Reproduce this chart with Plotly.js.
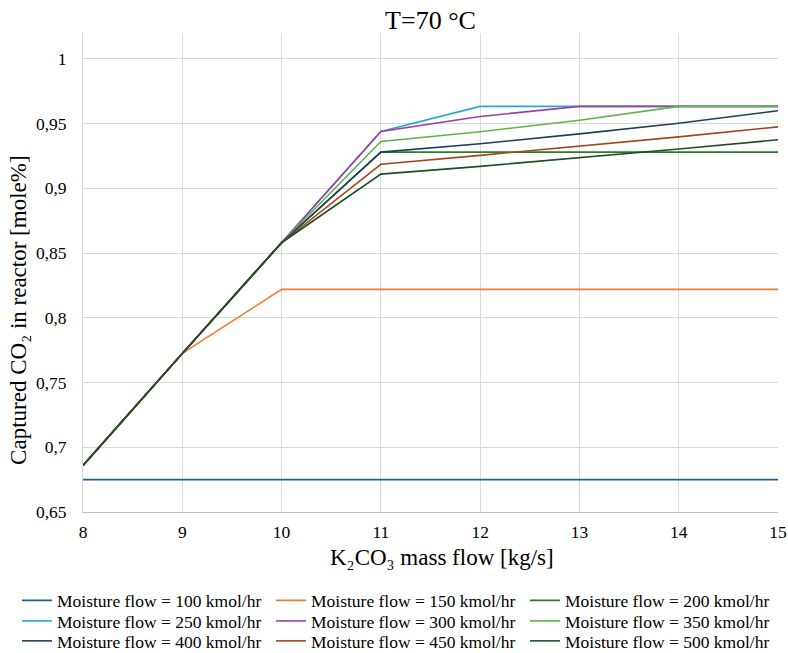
<!DOCTYPE html>
<html>
<head>
<meta charset="utf-8">
<script src="https://cdn.plot.ly/plotly-3.0.1.min.js"></script>
<style>html,body{margin:0;padding:0;background:#fff;}#chart{width:788px;height:653px;}</style>
</head>
<body>
<div id="chart"></div>
<script>
const massFlow = [8, 9, 10, 11, 12, 13, 14, 15];

const flow100 = [0.675, 0.675, 0.675, 0.675, 0.675, 0.675, 0.675, 0.675];
const flow150 = [0.686, 0.7725, 0.822, 0.822, 0.822, 0.822, 0.822, 0.822];
const flow200 = [0.686, 0.7725, 0.858, 0.928, 0.928, 0.928, 0.928, 0.928];
const flow250 = [0.686, 0.7725, 0.858, 0.944, 0.9633, 0.9633, 0.9633, 0.9633];
const flow300 = [0.686, 0.7725, 0.858, 0.944, 0.9555, 0.9633, 0.9633, 0.9633];
const flow350 = [0.686, 0.7725, 0.858, 0.9362, 0.9437, 0.9526, 0.9633, 0.9633];
const flow400 = [0.686, 0.7725, 0.858, 0.928, 0.9345, 0.9421, 0.9503, 0.960];
const flow450 = [0.686, 0.7725, 0.858, 0.9186, 0.9255, 0.9324, 0.9398, 0.9475];
const flow500 = [0.686, 0.7725, 0.858, 0.911, 0.917, 0.9235, 0.9304, 0.9375];

const seriesNames = [
  'Moisture flow = 100 kmol/hr', 'Moisture flow = 150 kmol/hr', 'Moisture flow = 200 kmol/hr',
  'Moisture flow = 250 kmol/hr', 'Moisture flow = 300 kmol/hr', 'Moisture flow = 350 kmol/hr',
  'Moisture flow = 400 kmol/hr', 'Moisture flow = 450 kmol/hr', 'Moisture flow = 500 kmol/hr'
];
const seriesValues = [flow100, flow150, flow200, flow250, flow300, flow350, flow400, flow450, flow500];
const seriesColors = ['#255E91', '#ED7D31', '#2A7D2A', '#2AA5DC', '#9E3FA8', '#5CB646', '#1F3E5C', '#A3461C', '#1F4E26'];
const legendRows = ['legend', 'legend', 'legend', 'legend2', 'legend2', 'legend2', 'legend3', 'legend3', 'legend3'];

const chartTitle = 'T=70 °C';
const xTitle = 'K₂CO₃ mass flow [kg/s]';
const yTitle = 'Captured CO₂ in reactor [mole%]';

const FONT = 'Liberation Serif, Times New Roman, serif';

const traces = seriesNames.map((name, i) => ({
  x: massFlow,
  y: seriesValues[i],
  name: name,
  legend: legendRows[i],
  type: 'scatter',
  mode: 'lines',
  line: {color: seriesColors[i], width: 1.6}
}));

function legendRow(y) {
  return {
    orientation: 'h',
    x: -0.095,
    xanchor: 'left',
    y: y,
    yanchor: 'middle',
    entrywidth: 209,
    entrywidthmode: 'pixels',
    itemwidth: 30,
    font: {family: FONT, size: 17.5, color: '#000'},
    bgcolor: 'rgba(0,0,0,0)',
    borderwidth: 0
  };
}

const layout = {
  width: 788,
  height: 653,
  margin: {l: 83, r: 10, t: 33, b: 141, autoexpand: false},
  paper_bgcolor: '#ffffff',
  plot_bgcolor: '#ffffff',
  separators: ', ',
  font: {family: FONT, color: '#000000', size: 17.5},
  title: {text: chartTitle, font: {family: FONT, size: 26, color: '#000'}, x: 0.5, xanchor: 'center', xref: 'paper', y: 0.969, yanchor: 'middle'},
  xaxis: {
    range: [8, 15],
    dtick: 1,
    tick0: 8,
    showgrid: true,
    gridcolor: '#d9d9d9',
    gridwidth: 1,
    zeroline: false,
    showline: true,
    linecolor: '#bfbfbf',
    linewidth: 1,
    ticks: '',
    ticklabelstandoff: 4,
    tickfont: {family: FONT, size: 17.5, color: '#000'}
  },
  yaxis: {
    range: [0.65, 1.02],
    dtick: 0.05,
    tick0: 0.65,
    showgrid: true,
    gridcolor: '#d9d9d9',
    gridwidth: 1,
    zeroline: false,
    showline: true,
    linecolor: '#d9d9d9',
    linewidth: 1,
    ticks: '',
    ticklabelstandoff: 12,
    tickfont: {family: FONT, size: 17.5, color: '#000'}
  },
  annotations: [
    {text: xTitle, xref: 'paper', yref: 'paper', x: 0.5165, y: -0.096, xanchor: 'center', yanchor: 'middle',
     showarrow: false, font: {family: FONT, size: 23, color: '#000'}},
    {text: yTitle, xref: 'paper', yref: 'paper', x: -0.092, y: 0.42, xanchor: 'center', yanchor: 'middle',
     textangle: -90, showarrow: false, font: {family: FONT, size: 23, color: '#000'}}
  ],
  showlegend: true,
  legend: legendRow(-0.1848),
  legend2: legendRow(-0.2276),
  legend3: legendRow(-0.2693)
};

Plotly.newPlot('chart', traces, layout, {displayModeBar: false, staticPlot: true});
</script>
</body>
</html>
